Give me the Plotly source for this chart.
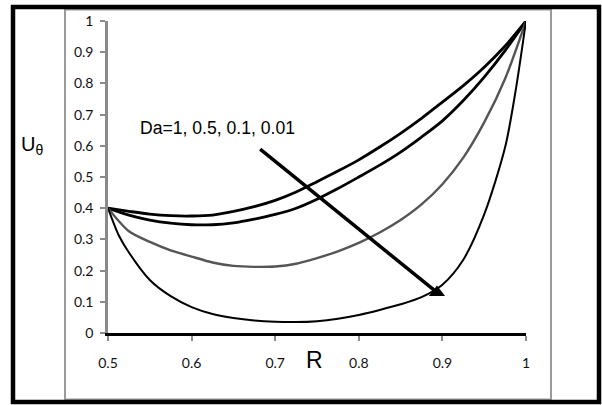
import plotly.graph_objects as go

# Radial position grid and velocity profiles U_theta(R) for several Darcy numbers
R = [0.500, 0.525, 0.550, 0.575, 0.600, 0.625, 0.650, 0.675, 0.700, 0.725, 0.750,
     0.775, 0.800, 0.825, 0.850, 0.875, 0.900, 0.925, 0.950, 0.975, 1.000]

u_da_1 = [0.400, 0.390, 0.381, 0.376, 0.375, 0.378, 0.390, 0.405, 0.425, 0.452, 0.485,
          0.519, 0.555, 0.596, 0.640, 0.688, 0.740, 0.793, 0.852, 0.920, 1.000]
u_da_05 = [0.400, 0.378, 0.362, 0.352, 0.347, 0.347, 0.353, 0.365, 0.380, 0.400, 0.429,
           0.463, 0.500, 0.538, 0.580, 0.628, 0.680, 0.745, 0.820, 0.905, 1.000]
u_da_01 = [0.400, 0.326, 0.292, 0.265, 0.245, 0.226, 0.215, 0.212, 0.213, 0.222, 0.240,
           0.262, 0.289, 0.322, 0.362, 0.412, 0.477, 0.562, 0.675, 0.815, 1.000]

R_fine = [0.5000, 0.5125, 0.525, 0.550, 0.575, 0.600, 0.625, 0.650, 0.675, 0.700, 0.725,
          0.750, 0.775, 0.800, 0.825, 0.850, 0.875, 0.900, 0.925, 0.950, 0.975, 0.9875, 1.000]
u_da_001 = [0.400, 0.315, 0.258, 0.170, 0.118, 0.083, 0.061, 0.048, 0.040, 0.036, 0.035,
            0.038, 0.046, 0.058, 0.074, 0.092, 0.115, 0.155, 0.235, 0.380, 0.595, 0.775, 1.000]

# Arrow indicating decreasing Da
arrow_R = [0.682, 0.8935]
arrow_U = [0.589, 0.130]

x_ticks = [0.5, 0.6, 0.7, 0.8, 0.9, 1.0]
x_tick_text = ["0.5", "0.6", "0.7", "0.8", "0.9", "1"]
y_ticks = [0, 0.1, 0.2, 0.3, 0.4, 0.5, 0.6, 0.7, 0.8, 0.9, 1.0]
y_tick_text = ["0", "0.1", "0.2", "0.3", "0.4", "0.5", "0.6", "0.7", "0.8", "0.9", "1"]

fig = go.Figure()

curve_style = dict(shape="spline", smoothing=0.8)
fig.add_trace(go.Scatter(x=R, y=u_da_1, mode="lines",
                         line=dict(color="#000000", width=2.8, **curve_style)))
fig.add_trace(go.Scatter(x=R, y=u_da_05, mode="lines",
                         line=dict(color="#000000", width=2.8, **curve_style)))
fig.add_trace(go.Scatter(x=R, y=u_da_01, mode="lines",
                         line=dict(color="#555555", width=2.4, **curve_style)))
fig.add_trace(go.Scatter(x=R_fine, y=u_da_001, mode="lines",
                         line=dict(color="#000000", width=2.0, **curve_style)))

fig.add_trace(go.Scatter(x=arrow_R, y=arrow_U, mode="lines",
                         line=dict(color="#000000", width=3.5)))
fig.add_trace(go.Scatter(x=arrow_R[1:], y=arrow_U[1:], mode="markers",
                         marker=dict(symbol="triangle-up", size=14, color="#000000",
                                     opacity=1, line=dict(width=0)),
                         cliponaxis=False))

# plot area geometry in pixels
W, H = 602, 405
ML, MR, MT, MB = 108, 76, 19, 72
PW, PH = W - ML - MR, H - MT - MB


def px(x):
    return (x - ML) / PW


def py(y):
    return (H - MB - y) / PH


shapes = [
    # chart area border (gray)
    dict(type="rect", xref="paper", yref="paper",
         x0=px(65), x1=px(551), y0=py(400), y1=py(7.5),
         line=dict(color="#9a9a9a", width=2), layer="below"),
    # outer frame (black)
    dict(type="rect", xref="paper", yref="paper",
         x0=px(13), x1=px(599), y0=py(402.5), y1=py(5),
         line=dict(color="#000000", width=4.5), layer="above"),
]

annotations = [
    dict(x=0.5359, y=0.656, xref="x", yref="y", xanchor="left", yanchor="middle",
         text="Da=1, 0.5, 0.1, 0.01", showarrow=False,
         font=dict(family="Liberation Sans, Arial", size=17.6, color="#000000")),
    dict(x=px(314), y=py(360), xref="paper", yref="paper", xanchor="center", yanchor="middle",
         text="R", showarrow=False,
         font=dict(family="Liberation Sans, Arial", size=23, color="#000000")),
    dict(x=px(19), y=py(144), xref="paper", yref="paper", xanchor="left", yanchor="middle",
         text="U<sub>θ</sub>", showarrow=False,
         font=dict(family="Liberation Sans, Arial", size=20, color="#000000")),
]

fig.update_layout(
    width=W, height=H,
    margin=dict(l=ML, r=MR, t=MT, b=MB, pad=0),
    paper_bgcolor="white", plot_bgcolor="white",
    showlegend=False,
    shapes=shapes,
    annotations=annotations,
    xaxis=dict(range=[0.5, 1.0], tickvals=x_ticks, ticktext=x_tick_text,
               showgrid=False, zeroline=False,
               showline=True, linecolor="#000000", linewidth=3,
               ticks="outside", ticklen=5, tickwidth=1.5, tickcolor="#8a8a8a",
               ticklabelstandoff=10,
               tickfont=dict(family="Lato, Open Sans", size=14, color="#111111")),
    yaxis=dict(range=[0, 1.0], tickvals=y_ticks, ticktext=y_tick_text,
               showgrid=False, zeroline=False,
               showline=True, linecolor="#8a8a8a", linewidth=2.5,
               ticks="outside", ticklen=5, tickwidth=1.5, tickcolor="#8a8a8a",
               ticklabelstandoff=4,
               tickfont=dict(family="Lato, Open Sans", size=14, color="#111111")),
)

fig.write_html("out.html")
